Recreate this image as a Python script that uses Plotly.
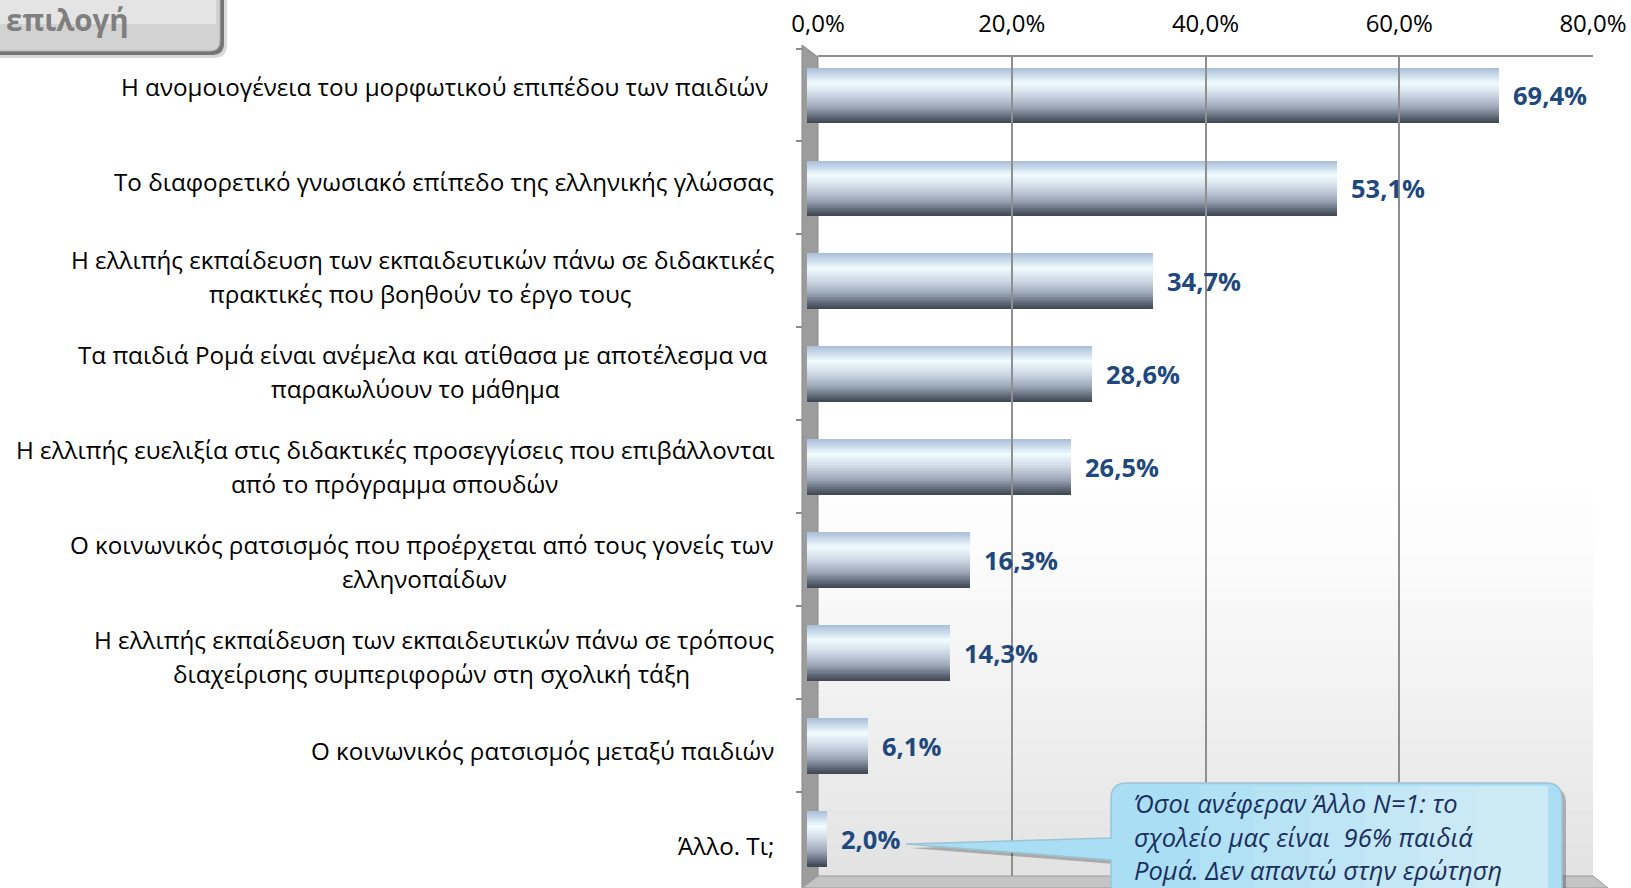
import plotly.graph_objects as go

# ---------------- data ----------------
categories = [
    "Η ανομοιογένεια του μορφωτικού επιπέδου των παιδιών",
    "Το διαφορετικό γνωσιακό επίπεδο της ελληνικής γλώσσας",
    "Η ελλιπής εκπαίδευση των εκπαιδευτικών πάνω σε διδακτικές πρακτικές που βοηθούν το έργο τους",
    "Τα παιδιά Ρομά είναι ανέμελα και ατίθασα με αποτέλεσμα να παρακωλύουν το μάθημα",
    "Η ελλιπής ευελιξία στις διδακτικές προσεγγίσεις που επιβάλλονται από το πρόγραμμα σπουδών",
    "Ο κοινωνικός ρατσισμός που προέρχεται από τους γονείς των ελληνοπαίδων",
    "Η ελλιπής εκπαίδευση των εκπαιδευτικών πάνω σε τρόπους διαχείρισης συμπεριφορών στη σχολική τάξη",
    "Ο κοινωνικός ρατσισμός μεταξύ παιδιών",
    "Άλλο. Τι;",
]
values = [69.4, 53.1, 34.7, 28.6, 26.5, 16.3, 14.3, 6.1, 2.0]
label_lines = [
    ["Η ανομοιογένεια του μορφωτικού επιπέδου των παιδιών"],
    ["Το διαφορετικό γνωσιακό επίπεδο της ελληνικής γλώσσας"],
    ["Η ελλιπής εκπαίδευση των εκπαιδευτικών πάνω σε διδακτικές", "πρακτικές που βοηθούν το έργο τους"],
    ["Τα παιδιά Ρομά είναι ανέμελα και ατίθασα με αποτέλεσμα να", "παρακωλύουν το μάθημα"],
    ["Η ελλιπής ευελιξία στις διδακτικές προσεγγίσεις που επιβάλλονται", "από το πρόγραμμα σπουδών"],
    ["Ο κοινωνικός ρατσισμός που προέρχεται από τους γονείς των", "ελληνοπαίδων"],
    ["Η ελλιπής εκπαίδευση των εκπαιδευτικών πάνω σε τρόπους", "διαχείρισης συμπεριφορών στη σχολική τάξη"],
    ["Ο κοινωνικός ρατσισμός μεταξύ παιδιών"],
    ["Άλλο. Τι;"],
]
tick_vals = [0, 20, 40, 60, 80]
tick_text = ["0,0%", "20,0%", "40,0%", "60,0%", "80,0%"]
title_text = "επιλογή"
note_lines = [
    "Όσοι ανέφεραν Άλλο Ν=1: το",
    "σχολείο μας είναι  96% παιδιά",
    "Ρομά. Δεν απαντώ στην ερώτηση",
]

# ---------------- layout helpers ----------------
W, H = 1631, 888
FONT = "Open Sans"


def px(x):
    return x / W


def py(y):
    return 1 - y / H


def hex2rgb(h):
    h = h.lstrip("#")
    return tuple(int(h[i:i + 2], 16) for i in (0, 2, 4))


def grad(stops, t):
    for (t0, c0), (t1, c1) in zip(stops, stops[1:]):
        if t0 <= t <= t1:
            f = (t - t0) / (t1 - t0) if t1 > t0 else 0
            a, b = hex2rgb(c0), hex2rgb(c1)
            return "rgb(%d,%d,%d)" % tuple(round(a[i] + (b[i] - a[i]) * f) for i in range(3))
    return stops[-1][1]


fig = go.Figure()

# cylinder-like bars: stacked slices with a vertical colour gradient
bar_w = 0.6
N = 28
stops = [(0.0, "#a9bdd8"), (0.27, "#f0fcff"), (0.5, "#cdd8e5"), (0.72, "#9ca8b8"), (0.9, "#5c6574"), (1.0, "#3e4550")]
dw = bar_w / N
for i in range(N):
    fig.add_trace(go.Bar(
        y=categories, x=values, orientation="h",
        width=dw * (2.0 if i < N - 1 else 1.0), offset=-bar_w / 2 + i * dw,
        marker=dict(color=grad(stops, (i + 0.5) / N), line=dict(width=0)),
        xaxis="x", yaxis="y", hoverinfo="skip", showlegend=False,
    ))

# empty trace so the back-wall axis subplot exists
fig.add_trace(go.Scatter(x=[None], y=[None], xaxis="x2", yaxis="y2", showlegend=False, hoverinfo="skip"))

annotations = []
# value labels
for c, v in zip(categories, values):
    annotations.append(dict(
        x=v, y=c, xref="x", yref="y", xanchor="left", yanchor="middle", xshift=12,
        text="<b>" + ("%.1f" % v).replace(".", ",") + "%</b>", showarrow=False,
        font=dict(family=FONT, size=25.5, color="#1F497D"),
    ))

# category labels (right-aligned blocks, centred second lines)
LBL = 24.2
right_edges = [770, 776, 776, 770, 776, 776, 776, 776, 776]
line2_centres = {2: 420, 3: 415, 4: 394, 5: 424, 6: 432}
for k, (c, lines) in enumerate(zip(categories, label_lines)):
    drift = (-8 + 15 * k / 8) * 1.04
    if len(lines) == 1:
        annotations.append(dict(
            x=px(right_edges[k]), y=c, xref="paper", yref="y", xanchor="right", yanchor="middle",
            yshift=-drift, text=lines[0], showarrow=False,
            font=dict(family=FONT, size=LBL, color="#000000"),
        ))
    else:
        annotations.append(dict(
            x=px(right_edges[k]), y=c, xref="paper", yref="y", xanchor="right", yanchor="middle",
            yshift=-drift + 17, text=lines[0], showarrow=False,
            font=dict(family=FONT, size=LBL, color="#000000"),
        ))
        annotations.append(dict(
            x=px(line2_centres[k]), y=c, xref="paper", yref="y", xanchor="center", yanchor="middle",
            yshift=-drift - 17, text=lines[1], showarrow=False,
            font=dict(family=FONT, size=LBL, color="#000000"),
        ))

# title button text
annotations.append(dict(
    x=px(4), y=py(20), xref="paper", yref="paper", xanchor="left", yanchor="middle",
    text="<b>" + title_text + "</b>", showarrow=False,
    font=dict(family=FONT, size=29.5, color="#7f7f7f"),
))

# callout text
for j, t in enumerate(note_lines):
    annotations.append(dict(
        x=px(1132), y=py(803 + 33.5 * j), xref="paper", yref="paper", xanchor="left", yanchor="middle",
        text="<i>" + t + "</i>", showarrow=False,
        font=dict(family=FONT, size=25.5, color="#1B2F5E"),
    ))


def P(pts, close=True):
    s = "M " + " L ".join("%.5f,%.5f" % (px(x), py(y)) for x, y in pts)
    return s + (" Z" if close else "")


shapes = []
# back wall: soft vertical gradient towards the floor
nb = 24
for b in range(nb):
    y0 = 470 + (876 - 470) * b / nb
    y1 = 470 + (876 - 470) * (b + 1) / nb
    g = round(255 - (255 - 226) * ((b + 0.5) / nb) ** 1.3)
    shapes.append(dict(type="rect", xref="paper", yref="paper", layer="below",
                       x0=px(818), x1=px(1593), y0=py(y1 + 0.5), y1=py(y0),
                       fillcolor="rgb(%d,%d,%d)" % (g, g, g), line=dict(width=0)))
# left side wall
shapes.append(dict(type="path", xref="paper", yref="paper", layer="below",
                   path=P([(802, 45), (818, 57), (818, 876), (802, 888)]),
                   fillcolor="#9c9c9c", line=dict(color="#8a8a8a", width=1)))
# floor
shapes.append(dict(type="path", xref="paper", yref="paper", layer="below",
                   path=P([(802, 888), (818, 876), (1593, 876), (1608, 888)]),
                   fillcolor="#c4c4c4", line=dict(color="#9a9a9a", width=1)))


# title button with shadow
def rbox(x0, y0, x1, y1, r):
    return ("M %.5f,%.5f L %.5f,%.5f L %.5f,%.5f Q %.5f,%.5f %.5f,%.5f L %.5f,%.5f Z" % (
        px(x0), py(y0), px(x1), py(y0),
        px(x1), py(y1 - r), px(x1), py(y1), px(x1 - r), py(y1), px(x0), py(y1)))


shapes.append(dict(type="path", xref="paper", yref="paper", layer="above",
                   path=rbox(-10, -10, 227, 58, 13), fillcolor="rgba(0,0,0,0.15)", line=dict(width=0)))
shapes.append(dict(type="path", xref="paper", yref="paper", layer="above",
                   path=rbox(-10, -10, 224, 55, 12), fillcolor="rgba(50,50,50,0.6)", line=dict(width=0)))
shapes.append(dict(type="path", xref="paper", yref="paper", layer="above",
                   path=rbox(-10, -10, 220, 51, 10), fillcolor="#d2d2d2", line=dict(color="#b0b0b0", width=1)))
shapes.append(dict(type="rect", xref="paper", yref="paper", layer="above",
                   x0=px(-10), x1=px(216), y0=py(24), y1=py(-10),
                   fillcolor="rgba(255,255,255,0.4)", line=dict(width=0)))


# callout bubble with pointer
def bubble(dx, dy):
    x1, x2, y1, y2, r = 1111 + dx, 1562 + dx, 783 + dy, 905, 16
    tip = (906 + dx, 844 + dy)
    return ("M %.5f,%.5f L %.5f,%.5f Q %.5f,%.5f %.5f,%.5f L %.5f,%.5f L %.5f,%.5f "
            "L %.5f,%.5f L %.5f,%.5f L %.5f,%.5f L %.5f,%.5f Q %.5f,%.5f %.5f,%.5f Z") % (
        px(x1 + r), py(y1), px(x2 - r), py(y1), px(x2), py(y1), px(x2), py(y1 + r),
        px(x2), py(y2), px(x1), py(y2),
        px(x1), py(860 + dy), px(tip[0]), py(tip[1]), px(x1), py(838 + dy),
        px(x1), py(y1 + r), px(x1), py(y1), px(x1 + r), py(y1))


shapes.append(dict(type="path", xref="paper", yref="paper", layer="above",
                   path=bubble(4, 4), fillcolor="rgba(0,0,0,0.25)", line=dict(width=0)))
shapes.append(dict(type="path", xref="paper", yref="paper", layer="above",
                   path=bubble(0, 0), fillcolor="#aadef4", line=dict(color="#9cc4d6", width=1.5)))
# lighter right-hand part of the bubble (gradient impression)
for s in range(6):
    x0 = 1200 + s * 55
    shapes.append(dict(type="rect", xref="paper", yref="paper", layer="above",
                       x0=px(x0), x1=px(1548), y0=py(888), y1=py(786),
                       fillcolor="rgba(255,255,255,0.09)", line=dict(width=0)))

fig.update_layout(
    width=W, height=H,
    margin=dict(l=0, r=0, t=0, b=0, autoexpand=False),
    paper_bgcolor="white", plot_bgcolor="rgba(0,0,0,0)",
    barmode="overlay", bargap=0,
    showlegend=False,
    separators=",.",
    xaxis=dict(domain=[px(807), px(1605)], range=[0, 80], visible=False, anchor="y", fixedrange=True),
    yaxis=dict(domain=[py(885), py(48.5)], type="category", categoryorder="array", categoryarray=categories,
               range=[8.5, -0.5], showticklabels=False, ticks="outside", tickson="boundaries",
               ticklen=6, tickcolor="#8a8a8a", tickwidth=1.5, showgrid=False, zeroline=False,
               showline=False, anchor="free", position=px(802), fixedrange=True),
    xaxis2=dict(domain=[px(818), px(1593)], range=[0, 80], side="top", anchor="y2",
                tickmode="array", tickvals=tick_vals, ticktext=tick_text,
                tickfont=dict(family=FONT, size=24, color="#000000"),
                showgrid=True, gridcolor="#8f8f8f", gridwidth=1.5,
                showline=True, linecolor="#8f8f8f", linewidth=1.5, zeroline=False, ticks="",
                ticklabelstandoff=14, fixedrange=True),
    yaxis2=dict(domain=[py(876), py(57)], range=[0, 1], anchor="x2", visible=False, fixedrange=True),
    annotations=annotations,
    shapes=shapes,
)

fig.write_html(
    "out.html",
    config={"displayModeBar": False},
    post_script="document.body.style.margin='0';document.body.style.padding='0';"
                "document.body.style.overflow='hidden';",
)
